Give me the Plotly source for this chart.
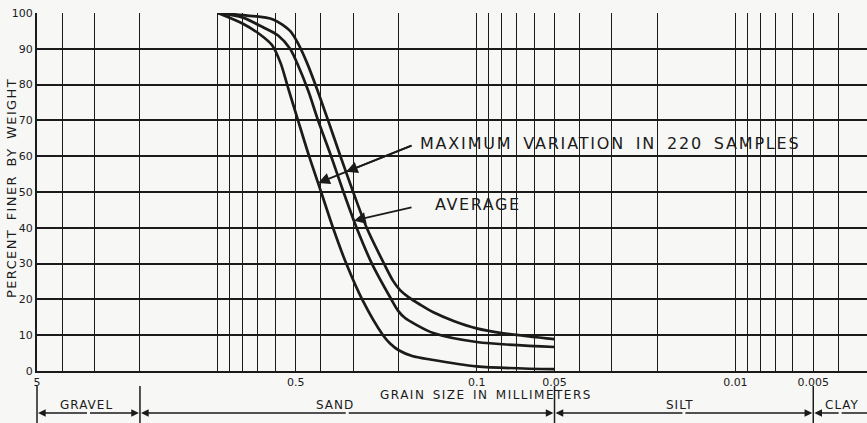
import numpy as np
import plotly.graph_objects as go

# ---------------- data ----------------
size_upper = [1.0, 0.80, 0.612, 0.526, 0.490, 0.452, 0.415, 0.375, 0.336, 0.300, 0.266, 0.228,
              0.210, 0.1976, 0.184, 0.165, 0.147, 0.122, 0.1, 0.08, 0.05]
pct_upper = [100, 99.4, 98.2, 95, 91.5, 86, 79, 70, 60, 50, 40, 30,
             25.1, 22.6, 20.7, 18.5, 16.4, 13.9, 11.9, 10.6, 8.9]

size_avg = [1.0, 0.80, 0.669, 0.585, 0.526, 0.490, 0.446, 0.410, 0.365, 0.327, 0.291, 0.254,
            0.214, 0.201, 0.189, 0.173, 0.147, 0.1, 0.05]
pct_avg = [100, 98.7, 96, 93.7, 90, 85.4, 78, 70, 60, 50, 40, 30,
           20.1, 16.8, 14.8, 13.1, 10.6, 8.1, 6.7]

size_lower = [1.0, 0.80, 0.687, 0.617, 0.572, 0.535, 0.490, 0.444, 0.399, 0.359, 0.319, 0.277,
              0.230, 0.216, 0.2, 0.1775, 0.151, 0.1, 0.05]
pct_lower = [100, 97, 94, 91, 86, 79, 70, 60, 50, 40, 30, 20,
             10, 7.7, 5.8, 4.2, 3.2, 1.3, 0.5]

grid_sizes = [5, 4, 3, 2, 1, 0.9, 0.8, 0.7, 0.6, 0.5, 0.4, 0.3, 0.2,
              0.1, 0.09, 0.08, 0.07, 0.06, 0.05, 0.04, 0.03, 0.02,
              0.01, 0.009, 0.008, 0.007, 0.006, 0.005, 0.004]
labelled_sizes = {5: "5", 0.5: "0.5", 0.1: "0.1", 0.05: "0.05", 0.01: "0.01", 0.005: "0.005"}
y_ticks = [0, 10, 20, 30, 40, 50, 60, 70, 80, 90, 100]

zone_names = ["GRAVEL", "SAND", "SILT", "CLAY"]
zone_bounds = [5, 2, 0.05, 0.005]

# ---------------- geometry helpers ----------------
X_MAX, X_MIN = 5.0, 0.0031
LMAX, LMIN = np.log10(X_MAX), np.log10(X_MIN)
SPAN = LMAX - LMIN
W, H = 830.0, 358.0      # plot area size in px
PX0, PY0 = 37.0, 371.0   # page position of the plot's bottom-left corner


def px(xp):
    return (xp - PX0) / W


def py(yp):
    return (PY0 - yp) / H


def u_of(size):
    return (LMAX - np.log10(size)) / SPAN


def size_of_pct(sizes, pcts, p):
    ls = np.log10(sizes)
    return 10 ** np.interp(p, np.array(pcts)[::-1], ls[::-1])


def pct_of_size(sizes, pcts, s):
    ls = np.log10(sizes)
    return np.interp(np.log10(s), ls[::-1], np.array(pcts)[::-1])


def spaced(text, ls, ws=0):
    return f'<span style="letter-spacing:{ls}px;word-spacing:{ws}px">{text}</span>'


INK = "#1b1b1b"
FONT = "DejaVu Sans"
BG = "#f7f7f5"

fig = go.Figure()
for sz, pc in [(size_upper, pct_upper), (size_avg, pct_avg), (size_lower, pct_lower)]:
    fig.add_trace(go.Scatter(x=sz, y=pc, mode="lines",
                             line=dict(color=INK, width=2.7, shape="spline", smoothing=0.8),
                             showlegend=False, hoverinfo="skip"))

fig.update_layout(
    width=867, height=423,
    margin=dict(l=37, r=0, t=13, b=52),
    paper_bgcolor=BG, plot_bgcolor=BG,
    font=dict(family=FONT, color=INK),
    showlegend=False,
)
fig.update_xaxes(type="log", range=[LMAX, LMIN],
                 tickmode="array", tickvals=grid_sizes,
                 ticktext=[labelled_sizes.get(v, "") for v in grid_sizes],
                 showgrid=True, gridcolor=INK, gridwidth=1.3,
                 showline=True, linecolor=INK, linewidth=2,
                 ticks="", tickfont=dict(size=11, color=INK), zeroline=False,
                 ticklabeloverflow="allow")
fig.update_yaxes(range=[0, 100], tickmode="array", tickvals=y_ticks,
                 ticktext=[str(v) for v in y_ticks],
                 showgrid=True, gridcolor=INK, gridwidth=1.5,
                 showline=True, linecolor=INK, linewidth=2,
                 ticks="", tickfont=dict(size=11, color=INK), zeroline=False,
                 ticklabelstandoff=0, ticklabeloverflow="allow")

# axis titles
fig.add_annotation(xref="paper", yref="paper", x=px(486), y=py(395),
                   xanchor="center", yanchor="middle",
                   text=spaced("GRAIN SIZE IN MILLIMETERS", 1.5, 2), showarrow=False,
                   font=dict(size=12, family=FONT, color=INK))
fig.add_annotation(xref="paper", yref="paper", x=px(11), y=py(188),
                   xanchor="center", yanchor="middle",
                   text=spaced("PERCENT FINER BY WEIGHT", 1.4, 3), textangle=-90, showarrow=False,
                   font=dict(size=13, family=FONT, color=INK))

# soil-class row
y_line = py(413)
y_lab = py(405)
for b in zone_bounds:
    fig.add_shape(type="line", xref="x domain", yref="y domain",
                  x0=u_of(b), x1=u_of(b), y0=py(386), y1=py(440),
                  line=dict(color=INK, width=1.5))
edges = [u_of(b) for b in zone_bounds] + [1.03]
label_px = [86, 335, 680, 842]
for i, name in enumerate(zone_names):
    a, b = edges[i], edges[i + 1]
    mid = (a + min(b, 1.0)) / 2
    fig.add_annotation(xref="paper", yref="paper", x=px(label_px[i]), y=y_lab,
                       xanchor="center", yanchor="middle",
                       text=spaced(name, 1.0), showarrow=False,
                       font=dict(size=12, family=FONT, color=INK))
    for head in (a, b):
        if head > 1.0:
            continue
        fig.add_annotation(xref="x domain", yref="y domain", axref="x domain", ayref="y domain",
                           x=head, y=y_line, ax=mid, ay=y_line, text="",
                           showarrow=True, arrowhead=2, arrowsize=1.1, arrowwidth=1.4,
                           arrowcolor=INK, standoff=1)
# clay line continues to the edge
fig.add_annotation(xref="x domain", yref="y domain", axref="x domain", ayref="y domain",
                   x=1.03, y=y_line, ax=(edges[3] + 1.0) / 2, ay=y_line, text="",
                   showarrow=True, arrowhead=0, arrowwidth=1.4, arrowcolor=INK)

# curve annotations
tail_max = (px(413), py(145))
tail_avg = (px(413), py(207))

lo_p = 52.5
lo_s = size_of_pct(size_lower, pct_lower, lo_p)
head_lo = (u_of(lo_s), lo_p / 100)

# where the line tail->lower head crosses the upper curve
t = np.linspace(0, 1, 4001)
uu = tail_max[0] + t * (head_lo[0] - tail_max[0])
vv = tail_max[1] + t * (head_lo[1] - tail_max[1])
curve_v = pct_of_size(size_upper, pct_upper, 10 ** (LMAX - uu * SPAN)) / 100
diff = vv - curve_v
idx = np.where(np.sign(diff[:-1]) != np.sign(diff[1:]))[0][0]
head_up = (uu[idx], vv[idx])

av_p = 42
head_av = (u_of(size_of_pct(size_avg, pct_avg, av_p)), av_p / 100)

for head, tail in [(head_lo, tail_max), (head_up, tail_max), (head_av, tail_avg)]:
    fig.add_annotation(xref="x domain", yref="y domain", axref="x domain", ayref="y domain",
                       x=head[0], y=head[1], ax=tail[0], ay=tail[1], text="",
                       showarrow=True, arrowhead=2, arrowsize=1.3, arrowwidth=1.8,
                       arrowcolor=INK, standoff=0)

fig.add_annotation(xref="paper", yref="paper", x=px(418), y=py(143),
                   xanchor="left", yanchor="middle",
                   text=spaced("MAXIMUM VARIATION IN 220 SAMPLES", 1.8, 4), showarrow=False,
                   font=dict(size=16, family=FONT, color=INK))
fig.add_annotation(xref="paper", yref="paper", x=px(433), y=py(204),
                   xanchor="left", yanchor="middle",
                   text=spaced("AVERAGE", 1.6), showarrow=False,
                   font=dict(size=16, family=FONT, color=INK))

# remove the page's default 8px body margin so the figure fills the window
fig.write_html("out.html", config={"displayModeBar": False},
               post_script="document.body.style.margin='0';document.body.style.padding='0';")
